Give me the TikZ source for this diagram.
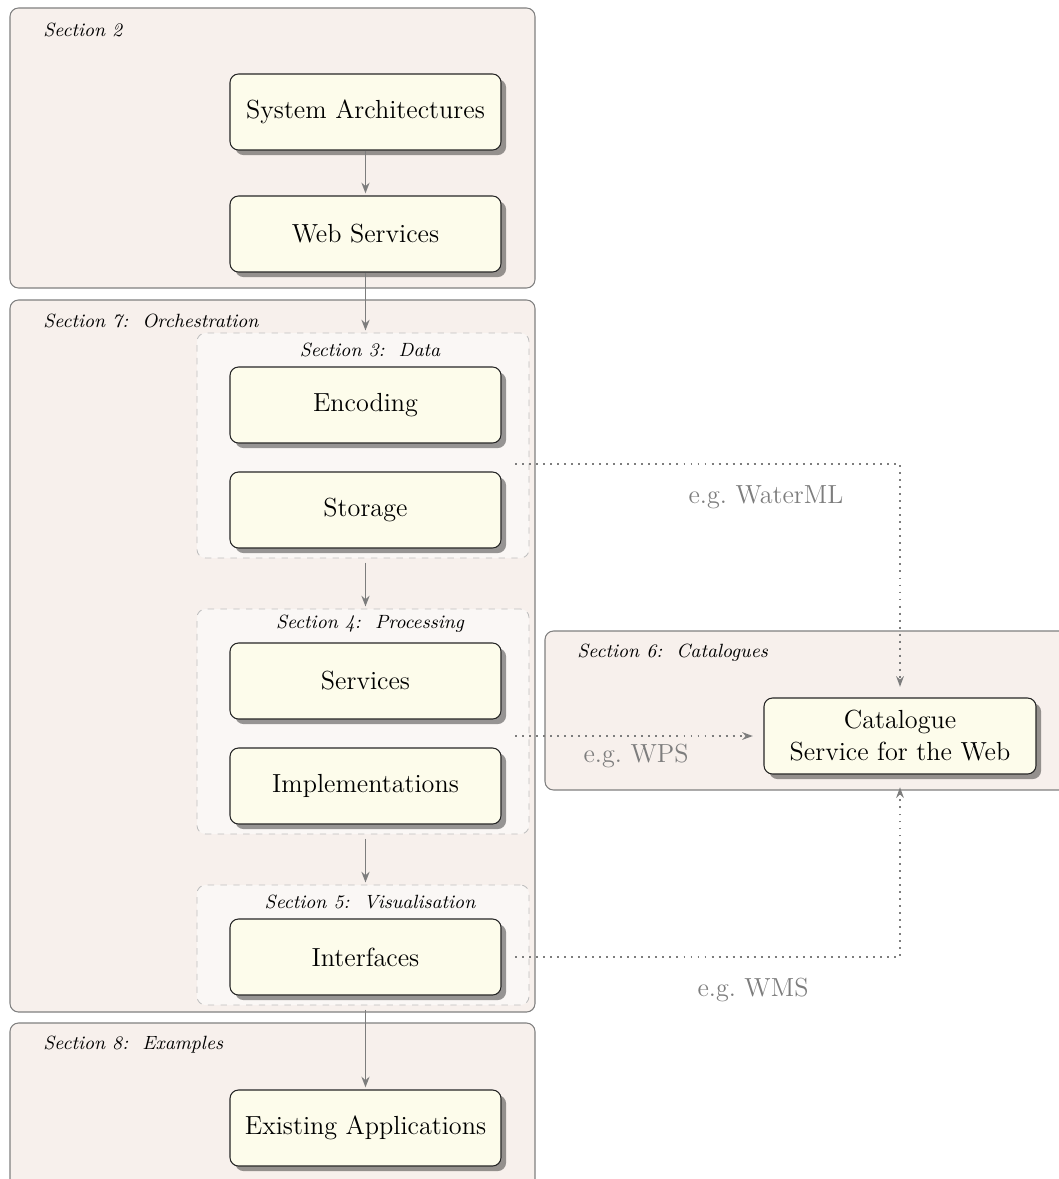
\documentclass[tikz,border=0pt]{standalone}
\usetikzlibrary{arrows.meta,shadows}
\definecolor{secfill}{RGB}{247,240,236}
\definecolor{subfill}{RGB}{250,247,245}
\definecolor{boxfill}{RGB}{253,252,235}
\definecolor{conn}{RGB}{125,125,125}
\def\pxu{0.47pt}
\tikzset{
 sect/.style={draw=black!50, fill=secfill, rounded corners=4pt, line width=0.5pt, inner sep=0pt},
 subsect/.style={draw=black!25, dashed, fill=subfill, rounded corners=4pt, inner sep=0pt},
 item/.style={draw=black!85, fill=boxfill, rounded corners=4pt, line width=0.5pt,
   minimum width={271*\pxu}, minimum height={76*\pxu}, font=\fontsize{12.3}{15}\selectfont, align=center, inner sep=0pt,
   drop shadow={shadow xshift=2.4pt, shadow yshift=-2.4pt, fill=black, opacity=0.4}},
 seclabel/.style={font=\small\itshape, inner sep=0pt},
 flow/.style={draw=conn, line width=0.85pt, -{Stealth[length=5pt,width=3.8pt]}},
 link/.style={draw=conn, line width=0.9pt, dash pattern=on 0.9pt off 2.4pt, -{Stealth[length=5pt,width=3.6pt]}},
 eg/.style={font=\fontsize{12.3}{15}\selectfont, text=conn, inner sep=0pt},
}
\begin{document}
\begin{tikzpicture}[x=0.47pt,y=-0.47pt]
\useasboundingbox (0,0) rectangle (1059,1179);
% section boxes
\node[sect, minimum width={525*\pxu}, minimum height={280*\pxu}] (s2) at (272.5,148) {};
\node[sect, minimum width={525*\pxu}, minimum height={712*\pxu}] (s7) at (272.5,656) {};
\node[sect, minimum width={525*\pxu}, minimum height={170*\pxu}] (s8) at (272.5,1108) {};
\node[sect, minimum width={525*\pxu}, minimum height={159*\pxu}] (s6) at (807.5,710.5) {};
\node[subsect, minimum width={332*\pxu}, minimum height={225*\pxu}] (s3) at (363,445.5) {};
\node[subsect, minimum width={332*\pxu}, minimum height={225*\pxu}] (s4) at (363,721.5) {};
\node[subsect, minimum width={332*\pxu}, minimum height={120*\pxu}] (s5) at (363,945) {};
% section labels
\node[seclabel, anchor=west] (l2) at (43,30) {Section 2};
\node[seclabel, anchor=west] (l7) at (43,321) {Section 7:\ \ Orchestration};
\node[seclabel, anchor=west] (l8) at (43,1045) {Section 8:\ \ Examples};
\node[seclabel, anchor=west] (l6) at (577,653) {Section 6:\ \ Catalogues};
\node[seclabel] (l3) at (370,350) {Section 3:\ \ Data};
\node[seclabel] (l4) at (370,624) {Section 4:\ \ Processing};
\node[seclabel] (l5) at (370,902) {Section 5:\ \ Visualisation};
% items
\node[item] (sa) at (365.5,112) {System Architectures};
\node[item] (ws) at (365.5,234) {Web Services};
\node[item] (enc) at (365.5,405) {Encoding};
\node[item] (sto) at (365.5,510) {Storage};
\node[item] (svc) at (365.5,681) {Services};
\node[item] (impl) at (365.5,786) {Implementations};
\node[item] (intf) at (365.5,957) {Interfaces};
\node[item] (app) at (365.5,1128) {Existing Applications};
\node[item, minimum width={272*\pxu}] (cat) at (900,736) {Catalogue\\Service for the Web};
% flow arrows
\draw[flow, shorten >=1pt] (sa.south) -- (ws.north);
\draw[flow, shorten >=1pt] (ws.south) -- (ws.south |- s3.north);
\draw[flow, shorten <=2pt, shorten >=1pt] (ws.south |- s3.south) -- (ws.south |- s4.north);
\draw[flow, shorten <=2pt, shorten >=1pt] (ws.south |- s4.south) -- (ws.south |- s5.north);
\draw[flow, shorten <=2pt, shorten >=1pt] (ws.south |- s5.south) -- (app.north);
% dotted links
\coordinate (c1) at (515,464);
\coordinate (c2) at (515,736);
\coordinate (c3) at (515,957);
\draw[link, shorten >=5pt] (c1) -| (cat.north);
\draw[link, shorten >=5pt] (c2) -- (cat.west);
\draw[link, shorten >=6pt] (c3) -| (cat.south);
\node[eg] (t1) at (766,497) {e.g.\ WaterML};
\node[eg] (t2) at (636,756) {e.g.\ WPS};
\node[eg] (t3) at (753,990) {e.g.\ WMS};
\end{tikzpicture}
\end{document}
